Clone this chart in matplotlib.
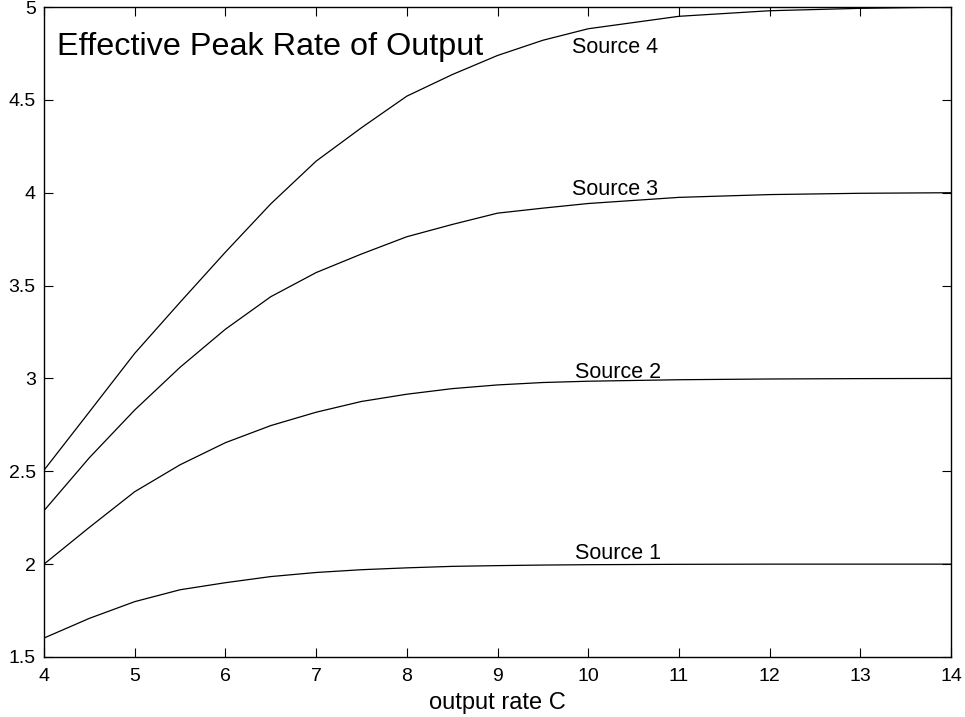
import numpy as np
import matplotlib
matplotlib.use("Agg")
import matplotlib.pyplot as plt

plt.rcParams['font.family'] = ['Liberation Sans', 'DejaVu Sans']

# output rate C
rate = [4, 4.5, 5, 5.5, 6, 6.5, 7, 7.5, 8, 8.5, 9, 9.5, 10, 11, 12, 13, 14]

# effective peak rate for each source
source1 = [1.602, 1.708, 1.798, 1.862, 1.900, 1.933, 1.955, 1.970, 1.980, 1.988,
           1.992, 1.995, 1.997, 1.999, 2.000, 2.000, 2.000]
source2 = [2.000, 2.198, 2.390, 2.535, 2.654, 2.746, 2.818, 2.876, 2.915, 2.945,
           2.965, 2.978, 2.985, 2.993, 2.997, 2.999, 3.000]
source3 = [2.288, 2.573, 2.830, 3.060, 3.265, 3.440, 3.570, 3.670, 3.763, 3.829,
           3.890, 3.917, 3.942, 3.975, 3.990, 3.997, 4.000]
source4 = [2.506, 2.820, 3.135, 3.410, 3.680, 3.940, 4.170, 4.350, 4.520, 4.636,
           4.739, 4.821, 4.883, 4.950, 4.980, 4.993, 5.000]

series = [source1, source2, source3, source4]
labels = ['Source 1', 'Source 2', 'Source 3', 'Source 4']
label_pos = [(9.85, 2.055), (9.85, 3.03), (9.82, 4.015), (9.82, 4.78)]

fig = plt.figure(figsize=(9.65, 7.17), dpi=100)
ax = fig.add_axes([0.0456, 0.0837, 0.9399, 0.9065])

for vals in series:
    ax.plot(rate, vals, color='black', linewidth=0.9)

for name, (lx, ly) in zip(labels, label_pos):
    ax.text(lx, ly, name, fontsize=15.5, ha='left', va='center')

ax.text(4.14, 4.785, 'Effective Peak Rate of Output', fontsize=23.3, ha='left', va='center')

ax.set_xlim(4, 14)
ax.set_ylim(1.5, 5)
ax.set_xticks(range(4, 15))
ax.set_yticks([1.5, 2, 2.5, 3, 3.5, 4, 4.5, 5])
ax.set_yticklabels(['1.5', '2', '2.5', '3', '3.5', '4', '4.5', '5'])
ax.tick_params(direction='in', length=6.5, width=0.8, labelsize=14, pad=6,
               top=True, right=True)
ax.tick_params(axis='x', pad=8)
for sp in ax.spines.values():
    sp.set_linewidth(1.0)

ax.set_xlabel('output rate C', fontsize=17, labelpad=5)

fig.savefig('out.png', dpi=100)
plt.close(fig)
